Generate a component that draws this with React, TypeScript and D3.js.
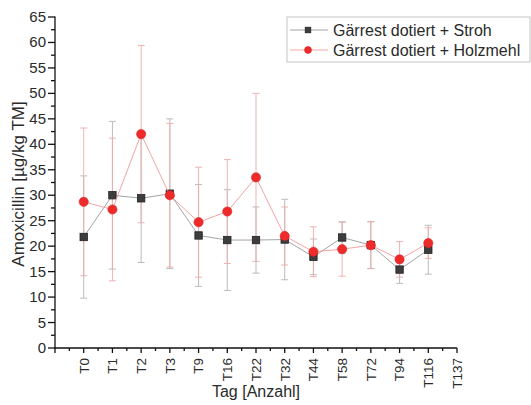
import React from "react";
import * as d3 from "d3";

// Sampling days (category axis)
const categories = ["T0", "T1", "T2", "T3", "T9", "T16", "T22", "T32", "T44", "T58", "T72", "T94", "T116", "T137"];

// Amoxicillin [µg/kg TM], mean and standard deviation per sampling day
const strohValues = [21.8, 30.0, 29.4, 30.3, 22.1, 21.2, 21.2, 21.3, 17.9, 21.7, 20.2, 15.4, 19.3];
const strohErrors = [12.0, 14.5, 12.6, 14.7, 10.0, 9.9, 6.5, 7.9, 3.5, 3.1, 4.6, 2.7, 4.8];
const holzValues = [28.7, 27.2, 42.0, 30.0, 24.7, 26.8, 33.5, 22.0, 18.9, 19.4, 20.2, 17.4, 20.6];
const holzErrors = [14.5, 14.0, 17.4, 14.1, 10.8, 10.2, 16.5, 5.7, 4.9, 5.3, 4.6, 3.5, 3.0];

const seriesNames = ["Gärrest dotiert + Stroh", "Gärrest dotiert + Holzmehl"];
const yTicks = [0, 5, 10, 15, 20, 25, 30, 35, 40, 45, 50, 55, 60, 65];

const W = 531;
const H = 405;
const FONT = "'Liberation Sans', Arial, Helvetica, sans-serif";

const x = d3.scaleLinear().domain([-1, categories.length - 1]).range([55, 457]);
const y = d3.scaleLinear().domain([0, 65]).range([348, 17]);

type Series = {
  name: string;
  values: number[];
  errors: number[];
  line: string;
  bar: string;
  marker: "square" | "circle";
  fill: string;
  stroke: string;
};

const series: Series[] = [
  { name: seriesNames[0], values: strohValues, errors: strohErrors, line: "#9a9a9a", bar: "#b4b4b4", marker: "square", fill: "#3d3d3d", stroke: "#222" },
  { name: seriesNames[1], values: holzValues, errors: holzErrors, line: "#f09a9a", bar: "#eeaaaa", marker: "circle", fill: "#ee2b2b", stroke: "#e02020" },
];

function Marker({ s, cx, cy, size = 1 }: { s: Series; cx: number; cy: number; size?: number }) {
  if (s.marker === "square") {
    const h = 3.7 * size;
    return <rect x={cx - h} y={cy - h} width={2 * h} height={2 * h} fill={s.fill} stroke={s.stroke} strokeWidth={0.8} />;
  }
  return <circle cx={cx} cy={cy} r={4.6 * size} fill={s.fill} stroke={s.stroke} strokeWidth={0.6} />;
}

export default function App() {
  const line = d3.line<number>().x((_, i) => x(i)).y((v) => y(v));
  const minorX = d3.range(-1, categories.length - 1, 1).map((i) => i + 0.5);
  const minorY = yTicks.slice(0, -1).map((t) => t + 2.5);

  return (
    <svg width={W} height={H} style={{ position: "absolute", left: 0, top: 0, background: "#fff" }} fontFamily={FONT}>
      {/* error bars */}
      {series.map((s) => (
        <g key={s.name + "-err"} stroke={s.bar} strokeWidth={0.9} fill="none">
          {s.values.map((v, i) => {
            const cx = x(i);
            const top = y(v + s.errors[i]);
            const bot = y(v - s.errors[i]);
            return (
              <g key={i}>
                <line x1={cx} x2={cx} y1={top} y2={bot} />
                <line x1={cx - 3.5} x2={cx + 3.5} y1={top} y2={top} />
                <line x1={cx - 3.5} x2={cx + 3.5} y1={bot} y2={bot} />
              </g>
            );
          })}
        </g>
      ))}

      {/* connecting lines and markers */}
      {series.map((s) => (
        <g key={s.name}>
          <path d={line(s.values) ?? ""} fill="none" stroke={s.line} strokeWidth={0.9} />
          {s.values.map((v, i) => (
            <Marker key={i} s={s} cx={x(i)} cy={y(v)} />
          ))}
        </g>
      ))}

      {/* y axis */}
      <g stroke="#111" strokeWidth={1.3}>
        <line x1={x(-1)} x2={x(-1)} y1={y(65) - 0.5} y2={y(0)} />
        {yTicks.map((t) => (
          <line key={t} x1={x(-1) - 7} x2={x(-1)} y1={y(t)} y2={y(t)} />
        ))}
        {minorY.map((t) => (
          <line key={t} x1={x(-1) - 4} x2={x(-1)} y1={y(t)} y2={y(t)} />
        ))}
      </g>
      <g fontSize={15} fill="#2a2a2a" textAnchor="end">
        {yTicks.map((t) => (
          <text key={t} x={x(-1) - 9} y={y(t) + 5}>{t}</text>
        ))}
      </g>
      <text
        transform={`translate(24,184) rotate(-90)`}
        textAnchor="middle"
        fontSize={17}
        fill="#2a2a2a"
      >
        Amoxicillin [µg/kg TM]
      </text>

      {/* x axis */}
      <g stroke="#111" strokeWidth={1.3}>
        <line x1={x(-1) - 0.6} x2={x(categories.length - 1)} y1={y(0)} y2={y(0)} />
        {d3.range(-1, categories.length).map((i) => (
          <line key={i} x1={x(i)} x2={x(i)} y1={y(0)} y2={y(0) + 5} />
        ))}
        {minorX.map((i) => (
          <line key={i} x1={x(i)} x2={x(i)} y1={y(0)} y2={y(0) + 3} />
        ))}
      </g>
      <g fontSize={13.5} fill="#2a2a2a" textAnchor="end">
        {categories.map((c, i) => (
          <text key={c} transform={`translate(${x(i) + 4.8},${y(0) + 10}) rotate(-90)`}>{c}</text>
        ))}
      </g>
      <text x={(x(-1) + x(categories.length - 1)) / 2} y={397} textAnchor="middle" fontSize={16} fill="#2a2a2a">
        Tag [Anzahl]
      </text>

      {/* legend */}
      <g>
        <rect x={287} y={17} width={243} height={45} fill="#fff" stroke="#c4c4c4" strokeWidth={1} />
        {series.map((s, i) => {
          const ly = 30 + i * 20;
          return (
            <g key={s.name}>
              <line x1={290} x2={328} y1={ly} y2={ly} stroke={s.line} strokeWidth={0.9} />
              <Marker s={s} cx={308} cy={ly} size={0.75} />
              <text x={333} y={ly + 5.5} fontSize={16} fill="#2a2a2a">{s.name}</text>
            </g>
          );
        })}
      </g>
    </svg>
  );
}
